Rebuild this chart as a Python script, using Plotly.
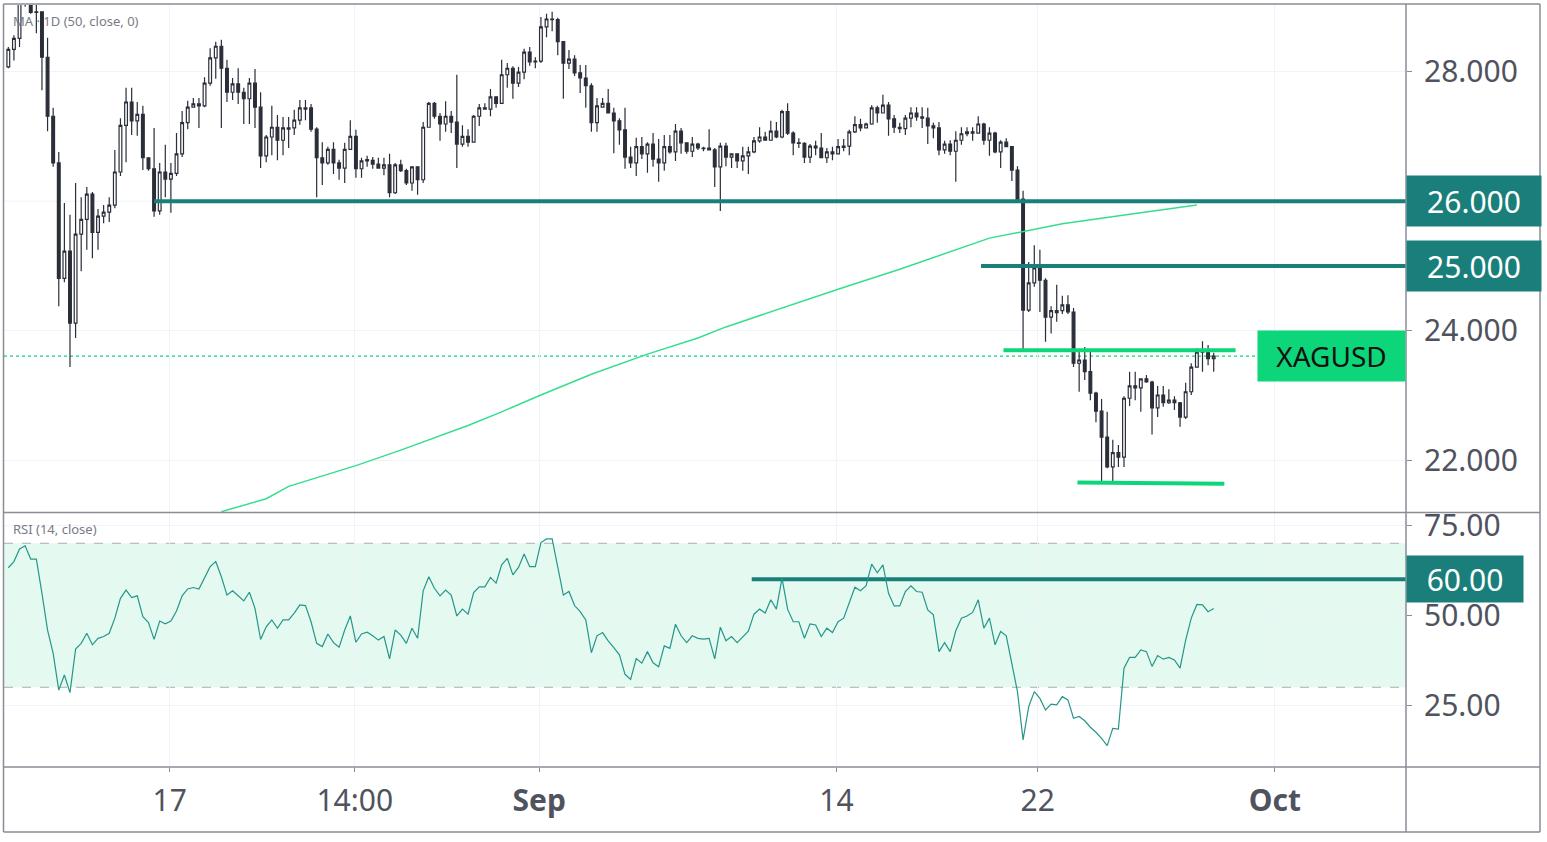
import plotly.graph_objects as go

# ---------------- data (4H XAGUSD candles, index = candle number) ----------------
open_ = [28.07, 28.34, 28.51, 29.12, 29.25, 28.91, 28.92, 28.22, 27.31, 26.59,
         24.81, 25.23, 24.12, 25.49, 25.72, 26.11, 25.52, 25.77, 25.83, 25.94,
         26.45, 27.17, 27.53, 27.24, 27.34, 26.67, 26.50, 25.85, 26.45, 26.34,
         26.43, 26.73, 27.21, 27.45, 27.50, 27.47, 27.82, 28.21, 28.39, 28.05,
         27.68, 27.81, 27.68, 27.58, 27.82, 27.45, 26.70, 26.99, 27.14, 26.94,
         27.11, 27.13, 27.25, 27.42, 27.44, 27.11, 26.67, 26.59, 26.80, 26.59,
         26.51, 26.80, 27.00, 26.50, 26.64, 26.63, 26.57, 26.51, 26.56, 26.13,
         26.56, 26.47, 26.28, 26.53, 26.33, 27.14, 27.51, 27.31, 27.19, 27.31,
         27.22, 26.88, 27.00, 26.91, 27.31, 27.44, 27.42, 27.61, 27.51, 27.95,
         28.05, 27.82, 27.99, 28.30, 28.15, 28.16, 28.69, 28.81, 28.80, 28.46,
         28.13, 28.19, 27.98, 27.90, 27.78, 27.21, 27.45, 27.51, 27.36, 27.24,
         27.10, 26.68, 26.59, 26.84, 26.73, 26.88, 26.65, 26.59, 26.84, 26.76,
         27.08, 26.90, 26.77, 26.88, 26.82, 26.82, 26.79, 26.53, 26.85, 26.68,
         26.73, 26.62, 26.70, 26.76, 26.93, 26.99, 26.94, 27.08, 26.99, 27.38,
         27.05, 26.90, 26.89, 26.68, 26.85, 26.82, 26.67, 26.76, 26.73, 26.83,
         26.85, 27.07, 27.18, 27.13, 27.19, 27.44, 27.36, 27.48, 27.27, 27.14,
         27.12, 27.28, 27.36, 27.30, 27.28, 27.16, 27.13, 26.79, 26.88, 26.77,
         26.94, 27.04, 27.07, 27.05, 27.19, 26.94, 27.05, 26.76, 26.91, 26.84,
         26.48, 26.03, 24.32, 24.74, 24.97, 24.78, 24.21, 24.28, 24.31, 24.40,
         24.29, 23.50, 23.55, 23.37, 23.04, 22.76, 22.36, 21.90, 22.12, 22.05,
         22.96, 23.12, 23.12, 23.26, 23.21, 22.81, 23.01, 22.89, 22.93, 22.89,
         22.67, 23.06, 23.44, 23.67, 23.69, 23.57]
high = [28.38, 28.56, 29.30, 29.45, 29.40, 29.05, 28.93, 28.52, 27.44, 26.76,
        25.97, 25.79, 26.28, 26.06, 26.22, 26.14, 25.88, 25.94, 26.06, 26.79,
        27.28, 27.75, 27.75, 27.53, 27.47, 26.67, 27.13, 26.59, 26.87, 26.59,
        27.05, 27.39, 27.55, 27.59, 27.59, 27.91, 28.36, 28.46, 28.49, 28.18,
        27.90, 28.05, 27.75, 27.90, 28.04, 27.68, 27.02, 27.47, 27.33, 27.30,
        27.30, 27.41, 27.56, 27.56, 27.50, 27.14, 26.91, 26.84, 26.91, 26.64,
        26.90, 27.25, 27.10, 26.67, 26.70, 26.68, 26.67, 26.67, 26.73, 26.59,
        26.64, 26.50, 26.54, 26.54, 27.22, 27.53, 27.53, 27.36, 27.54, 27.39,
        27.95, 27.17, 27.11, 27.33, 27.50, 27.51, 27.73, 27.62, 28.18, 28.13,
        28.08, 28.07, 28.35, 28.38, 28.22, 28.84, 28.89, 28.92, 28.83, 28.46,
        28.33, 28.25, 28.10, 28.10, 27.82, 27.59, 27.59, 27.73, 27.44, 27.28,
        27.44, 26.84, 26.98, 26.99, 26.91, 27.05, 26.96, 27.02, 27.02, 27.19,
        27.13, 26.91, 26.99, 26.90, 26.84, 27.11, 26.82, 26.90, 26.90, 26.74,
        26.74, 26.84, 26.84, 26.99, 27.14, 27.07, 27.24, 27.22, 27.41, 27.51,
        27.08, 26.97, 26.91, 26.88, 26.93, 27.05, 26.82, 26.84, 26.96, 26.96,
        27.10, 27.31, 27.27, 27.21, 27.48, 27.47, 27.64, 27.53, 27.33, 27.21,
        27.33, 27.45, 27.45, 27.45, 27.44, 27.21, 27.22, 26.93, 26.94, 27.08,
        27.14, 27.14, 27.14, 27.31, 27.21, 27.14, 27.07, 26.94, 26.97, 26.85,
        26.54, 26.16, 25.06, 25.32, 25.25, 24.81, 24.38, 24.71, 24.54, 24.55,
        24.35, 23.70, 23.75, 23.72, 23.06, 22.95, 22.75, 22.32, 22.24, 22.99,
        23.37, 23.37, 23.27, 23.32, 23.23, 23.15, 23.15, 23.10, 22.99, 22.90,
        23.20, 23.50, 23.73, 23.84, 23.78, 23.66]
low = [28.05, 28.17, 28.38, 29.00, 28.89, 28.59, 27.71, 27.08, 26.53, 24.38,
       24.75, 23.44, 23.89, 24.92, 25.25, 25.12, 25.25, 25.66, 25.68, 25.89,
       26.39, 26.60, 27.02, 27.01, 26.48, 26.47, 25.76, 25.79, 26.06, 25.82,
       26.39, 26.68, 27.11, 27.44, 27.13, 27.45, 27.78, 27.89, 27.13, 27.53,
       27.56, 27.50, 27.19, 27.19, 27.13, 26.51, 26.60, 26.71, 26.63, 26.71,
       26.82, 27.02, 27.18, 27.25, 27.07, 26.06, 26.25, 26.56, 26.42, 26.33,
       26.28, 26.79, 26.36, 26.36, 26.53, 26.50, 26.51, 26.40, 26.06, 26.11,
       26.45, 26.25, 26.16, 26.10, 26.28, 27.14, 27.27, 26.93, 27.07, 27.05,
       26.51, 26.84, 26.84, 26.90, 27.16, 27.41, 27.31, 27.44, 27.51, 27.75,
       27.58, 27.76, 27.88, 28.09, 28.05, 28.13, 28.53, 28.62, 28.25, 27.58,
       28.04, 27.93, 27.67, 27.44, 27.07, 27.07, 27.45, 27.36, 26.74, 26.87,
       26.50, 26.51, 26.39, 26.65, 26.44, 26.53, 26.30, 26.47, 26.73, 26.62,
       26.73, 26.73, 26.68, 26.79, 26.77, 26.79, 26.22, 25.85, 26.54, 26.51,
       26.51, 26.47, 26.42, 26.74, 26.90, 26.93, 26.93, 26.97, 26.97, 27.02,
       26.71, 26.82, 26.59, 26.59, 26.71, 26.67, 26.59, 26.63, 26.73, 26.77,
       26.71, 27.05, 27.08, 27.13, 27.18, 27.21, 27.36, 27.01, 27.05, 27.05,
       27.02, 27.14, 27.24, 27.13, 26.88, 26.97, 26.71, 26.73, 26.71, 26.30,
       26.87, 27.00, 26.93, 27.04, 26.87, 26.70, 26.74, 26.51, 26.84, 26.31,
       25.99, 23.70, 24.29, 24.68, 24.29, 23.83, 23.96, 24.14, 24.26, 24.26,
       23.44, 23.06, 23.24, 22.93, 22.59, 21.68, 21.88, 21.65, 21.90, 21.90,
       22.84, 22.93, 22.75, 23.20, 22.40, 22.67, 22.83, 22.87, 22.78, 22.52,
       22.64, 23.01, 23.43, 23.37, 23.47, 23.37]
close = [28.34, 28.51, 29.12, 29.25, 28.91, 28.92, 28.22, 27.31, 26.59, 24.81,
         25.23, 24.12, 25.49, 25.72, 26.11, 25.52, 25.77, 25.83, 25.94, 26.45,
         27.17, 27.53, 27.24, 27.34, 26.67, 26.50, 25.85, 26.45, 26.34, 26.43,
         26.73, 27.21, 27.45, 27.50, 27.47, 27.82, 28.21, 28.39, 28.05, 27.68,
         27.81, 27.68, 27.58, 27.82, 27.45, 26.70, 26.99, 27.14, 26.94, 27.13,
         27.13, 27.25, 27.44, 27.44, 27.11, 26.67, 26.59, 26.80, 26.59, 26.51,
         26.80, 27.00, 26.50, 26.62, 26.62, 26.57, 26.51, 26.56, 26.13, 26.56,
         26.47, 26.28, 26.53, 26.33, 27.14, 27.51, 27.31, 27.19, 27.31, 27.22,
         26.88, 27.00, 26.91, 27.31, 27.44, 27.42, 27.61, 27.51, 27.95, 28.05,
         27.82, 27.99, 28.30, 28.15, 28.16, 28.69, 28.81, 28.80, 28.46, 28.13,
         28.19, 27.98, 27.90, 27.78, 27.21, 27.47, 27.51, 27.36, 27.24, 27.10,
         26.68, 26.59, 26.84, 26.73, 26.88, 26.65, 26.59, 26.84, 26.76, 27.08,
         26.90, 26.77, 26.88, 26.82, 26.81, 26.79, 26.53, 26.85, 26.68, 26.73,
         26.62, 26.70, 26.76, 26.93, 26.99, 26.94, 27.08, 26.99, 27.38, 27.05,
         26.90, 26.89, 26.68, 26.85, 26.82, 26.67, 26.76, 26.73, 26.84, 26.85,
         27.07, 27.18, 27.13, 27.19, 27.44, 27.36, 27.48, 27.27, 27.14, 27.12,
         27.28, 27.36, 27.30, 27.28, 27.16, 27.13, 26.79, 26.88, 26.77, 26.94,
         27.04, 27.07, 27.05, 27.19, 26.94, 27.05, 26.76, 26.91, 26.84, 26.48,
         26.03, 24.32, 24.74, 24.97, 24.78, 24.21, 24.31, 24.31, 24.40, 24.29,
         23.50, 23.55, 23.37, 23.04, 22.76, 22.36, 21.90, 22.12, 22.05, 22.96,
         23.15, 23.15, 23.26, 23.21, 22.81, 23.01, 22.89, 22.93, 22.89, 22.67,
         23.06, 23.44, 23.67, 23.69, 23.57, 23.61]

rsi = [63.2, 64.9, 68.4, 69.3, 65.6, 65.6, 56.1, 45.9, 39.4, 29.2,
       33.4, 28.5, 40.6, 42.2, 45.0, 41.8, 43.6, 44.1, 45.0, 49.2,
       54.7, 57.0, 54.9, 55.4, 49.6, 48.0, 43.3, 48.4, 47.6, 48.4,
       51.2, 55.4, 57.3, 57.7, 57.3, 60.3, 63.5, 64.9, 60.7, 55.6,
       56.8, 55.4, 54.0, 56.4, 51.9, 43.3, 46.8, 48.7, 46.4, 48.7,
       48.7, 50.6, 52.9, 52.7, 48.2, 42.2, 41.3, 44.8, 42.4, 41.1,
       45.9, 49.8, 42.5, 44.8, 45.3, 44.3, 43.1, 44.1, 37.9, 45.9,
       44.5, 42.2, 46.4, 43.6, 56.8, 60.7, 57.5, 55.4, 57.0, 55.6,
       49.8, 51.7, 50.3, 56.3, 57.9, 57.9, 60.5, 58.9, 64.0,
       65.8, 61.2, 63.3, 67.0, 63.5, 63.5, 70.2, 71.2, 71.2, 63.5,
       55.6, 56.6, 52.7, 51.0, 48.7, 39.6, 44.3, 45.2, 42.9, 41.0,
       39.0, 33.6, 32.2, 38.0, 36.7, 39.9, 36.8, 35.7, 41.5, 40.8,
       47.5, 44.3, 42.4, 44.3, 43.6, 43.4, 43.6, 37.9, 46.7, 42.9,
       44.1, 42.4, 44.1, 45.6, 50.3, 51.7, 50.6, 54.3, 51.7, 60.3,
       51.7, 48.2, 48.2, 43.6, 47.6, 47.3, 44.1, 46.4, 45.2, 48.2,
       49.2, 53.8, 57.8, 56.8, 58.2, 64.2, 61.8, 64.0, 56.1, 52.6,
       52.6, 56.6, 58.2, 56.6, 56.4, 51.5, 50.1, 39.9, 42.4, 39.9,
       45.7, 49.2, 49.8, 50.8, 54.3, 46.4, 49.2, 41.8, 45.5,
       44.3, 36.7, 28.8, 15.4, 24.6, 28.8, 26.9, 23.7, 25.3, 25.1,
       27.4, 26.5, 21.4, 21.9, 20.7, 18.9, 17.5, 15.8, 13.8, 18.6,
       18.4, 35.3, 38.3, 38.3, 40.4, 39.9, 35.8, 38.8, 37.8, 38.3,
       37.6, 35.3, 43.1, 49.2, 53.0, 52.9, 51.0, 51.9]

ma_idx = [38, 46, 50, 62, 70, 82, 88, 95, 104, 114, 123, 128, 148, 159, 175, 188, 201, 212]
ma_val = [21.21, 21.41, 21.60, 21.92, 22.16, 22.54, 22.75, 23.01, 23.33, 23.64,
          23.89, 24.06, 24.64, 24.95, 25.43, 25.65, 25.81, 25.94]

idx = list(range(len(close)))
ridx = list(range(len(rsi)))

tick_pos = [28.8, 61.8, 94.7, 147.7, 183.6, 225.9]
tick_text = ["17", "14:00", "<b>Sep</b>", "14", "22", "<b>Oct</b>"]
price_ticks = [22, 24, 28]
price_grid_extra = [26]
rsi_ticks = [25, 50, 75]

# drawn levels
teal_levels = [26.0, 25.0]
teal_starts = [26.0, 173.5]
res_level = 23.70
res_span = [177.5, 218.9]
sup_levels = [21.66, 21.64]
sup_span = [190.7, 216.9]
rsi_level = 60.0
rsi_level_start = 132.6
rsi_band = [30, 70]

# ---------------- styling ----------------
DARK = "#2a2e39"
TEAL = "#1a7f7a"
GREEN = "#0dd67a"
GRID = "#f0f3fa"
BORDER = "#8a8d96"
TXT = "#50535e"
FONT = "Noto Sans"
XR = [-0.77, 249.3]

fig = go.Figure()


def level_trace(xs, ys, color, xa="x", ya="y"):
    return go.Scatter(x=xs, y=ys, mode="lines", line=dict(color=color, width=4),
                      xaxis=xa, yaxis=ya, showlegend=False, hoverinfo="skip", cliponaxis=True)


# drawn levels (under the candles)
for lv, st in zip(teal_levels, teal_starts):
    fig.add_trace(level_trace([st, XR[1]], [lv, lv], TEAL))
fig.add_trace(level_trace(res_span, [res_level, res_level], GREEN))
fig.add_trace(level_trace(sup_span, sup_levels, GREEN))
fig.add_trace(level_trace([rsi_level_start, XR[1]], [rsi_level, rsi_level], TEAL, "x2", "y2"))

fig.add_trace(go.Candlestick(
    x=idx, open=open_, high=high, low=low, close=close,
    increasing=dict(line=dict(color=DARK, width=1.2), fillcolor="white"),
    decreasing=dict(line=dict(color=DARK, width=1.2), fillcolor=DARK),
    whiskerwidth=0, xaxis="x", yaxis="y", showlegend=False, hoverinfo="skip"))
fig.add_trace(go.Scatter(x=ma_idx, y=ma_val, mode="lines",
                         line=dict(color="#36de8c", width=1.5),
                         xaxis="x", yaxis="y", showlegend=False, hoverinfo="skip"))
fig.add_trace(go.Scatter(x=ridx, y=rsi, mode="lines",
                         line=dict(color="#26968a", width=1.2),
                         xaxis="x2", yaxis="y2", showlegend=False, hoverinfo="skip"))


def xp(px):
    return (px - 4) / 1402.0


def yp(py):
    return (767 - py) / 762.0


shapes = []
# RSI band
shapes.append(dict(type="rect", xref="x2", yref="y2", x0=XR[0], x1=XR[1],
                   y0=rsi_band[0], y1=rsi_band[1], fillcolor="rgba(13,214,122,0.11)",
                   line=dict(width=0), layer="below"))
for b in rsi_band:
    shapes.append(dict(type="line", xref="x2", yref="y2", x0=XR[0], x1=XR[1], y0=b, y1=b,
                       line=dict(color="#a9acb4", width=1, dash="dash"), layer="below"))
for g in price_grid_extra:
    shapes.append(dict(type="line", xref="x", yref="y", x0=XR[0], x1=XR[1], y0=g, y1=g,
                       line=dict(color=GRID, width=1), layer="below"))
# last price dotted
shapes.append(dict(type="line", xref="x", yref="y", x0=XR[0], x1=XR[1], y0=close[-1], y1=close[-1],
                   line=dict(color=GREEN, width=1.2, dash="dot"), layer="below"))
# frame
L, R, T, B = xp(3.5), xp(1540), yp(4), yp(832)
for (x0, y0, x1, y1) in [(L, T, R, T), (L, B, R, B), (L, T, L, B), (R, T, R, B),
                         (1.0, T, 1.0, B), (L, yp(512.5), R, yp(512.5)), (L, 0, R, 0)]:
    shapes.append(dict(type="line", xref="paper", yref="paper", x0=x0, y0=y0, x1=x1, y1=y1,
                       line=dict(color=BORDER, width=1.5), layer="above"))

ann = []
for lv in teal_levels:
    ann.append(dict(xref="paper", yref="y", x=1.0, y=lv, xanchor="left", yanchor="middle",
                    text=f"{lv:.3f}", showarrow=False, bgcolor=TEAL, width=134, height=50,
                    borderpad=0, align="center", font=dict(family=FONT, size=30, color="white")))
ann.append(dict(xref="paper", yref="y2", x=1.0, y=rsi_level, xanchor="left", yanchor="middle",
                text=f"{rsi_level:.2f}", showarrow=False, bgcolor=TEAL, width=116, height=46,
                borderpad=0, align="center", font=dict(family=FONT, size=30, color="white")))
ann.append(dict(xref="paper", yref="y", x=1.0, y=close[-1], xanchor="right", yanchor="middle",
                text="XAGUSD", showarrow=False, bgcolor=GREEN, width=147, height=50,
                borderpad=0, align="center", font=dict(family=FONT, size=28, color="#111111")))
ann.append(dict(xref="paper", yref="paper", x=xp(11), y=yp(21), xanchor="left", yanchor="middle",
                text="MA · 1D (50, close, 0)", showarrow=False,
                font=dict(family=FONT, size=13, color="#787b86")))
ann.append(dict(xref="paper", yref="paper", x=xp(11), y=yp(529), xanchor="left", yanchor="middle",
                text="RSI (14, close)", showarrow=False,
                font=dict(family=FONT, size=13, color="#787b86")))

fig.update_layout(
    width=1547, height=842,
    margin=dict(l=4, r=141, t=5, b=75, autoexpand=False),
    paper_bgcolor="white", plot_bgcolor="white",
    hovermode=False, showlegend=False,
    shapes=shapes, annotations=ann,
    xaxis=dict(domain=[0, 1], anchor="y", range=XR, showticklabels=False, automargin=False,
               tickvals=tick_pos, showgrid=True, gridcolor=GRID, gridwidth=1,
               zeroline=False, showline=False, ticks="", rangeslider=dict(visible=False)),
    xaxis2=dict(domain=[0, 1], anchor="y2", matches="x", range=XR, automargin=False,
                tickvals=tick_pos, ticktext=tick_text, showgrid=True, gridcolor=GRID,
                zeroline=False, showline=False, ticks="outside", ticklen=4, tickcolor=BORDER,
                ticklabelstandoff=3,
                tickfont=dict(family=FONT, size=30, color=TXT)),
    yaxis=dict(domain=[yp(512), 1], anchor="x", side="right", range=[21.205, 29.026],
               automargin=False,
               tickvals=price_ticks, tickformat=".3f", showgrid=True, gridcolor=GRID,
               zeroline=False, showline=False, ticks="outside", ticklen=5, tickcolor=BORDER,
               ticklabelstandoff=6,
               tickfont=dict(family=FONT, size=30, color=TXT)),
    yaxis2=dict(domain=[0, yp(513)], anchor="x2", side="right", range=[7.86, 78.4],
                automargin=False,
                tickvals=rsi_ticks, tickformat=".2f", showgrid=True, gridcolor=GRID,
                zeroline=False, showline=False, ticks="outside", ticklen=5, tickcolor=BORDER,
                ticklabelstandoff=6,
                tickfont=dict(family=FONT, size=30, color=TXT)),
)

fig.write_html("out.html", config={"displayModeBar": False},
               post_script="document.body.style.margin='0';")
